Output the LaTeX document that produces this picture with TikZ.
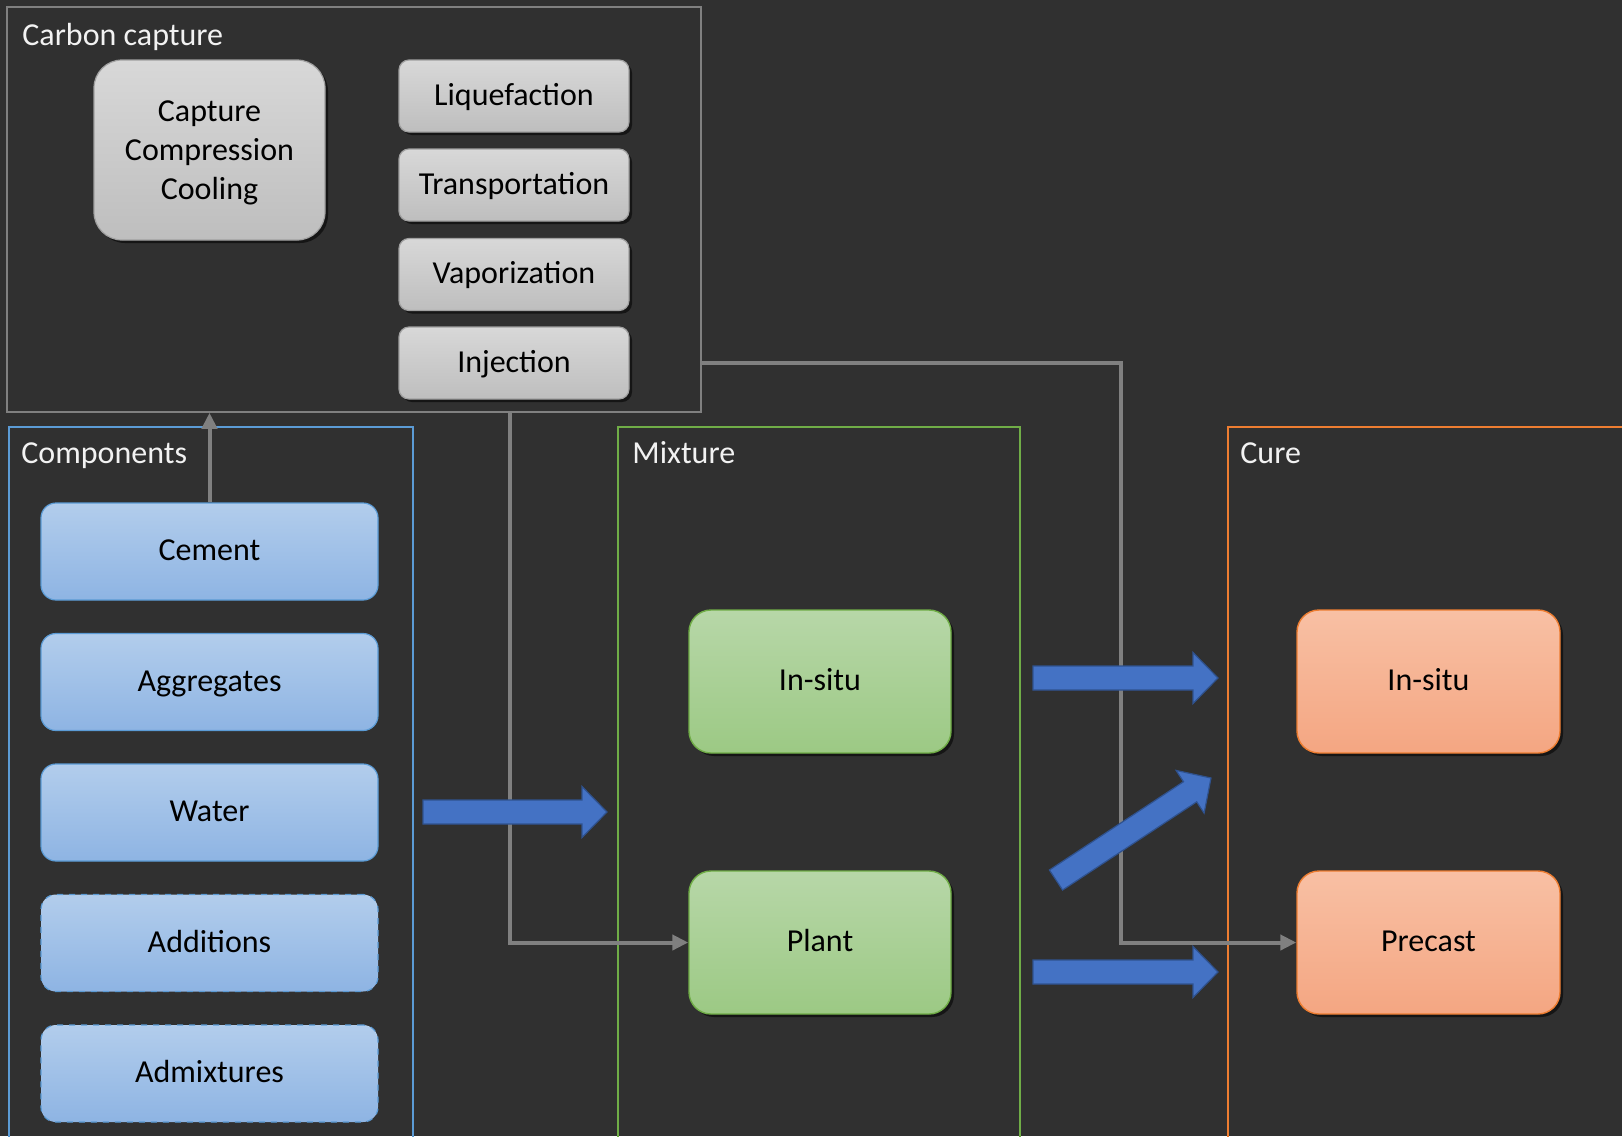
\documentclass[tikz,border=0pt]{standalone}
\usepackage{fontspec}
\setmainfont{Carlito}
\usetikzlibrary{shadows,arrows.meta}
\definecolor{bg}{RGB}{48,48,48}
\definecolor{linegray}{RGB}{128,128,128}
\definecolor{labelwhite}{RGB}{242,242,242}
\definecolor{grayTop}{RGB}{216,216,216}
\definecolor{grayBot}{RGB}{190,190,190}
\definecolor{grayEdge}{RGB}{160,160,160}
\definecolor{blueTop}{RGB}{178,205,236}
\definecolor{blueBot}{RGB}{142,180,227}
\definecolor{blueEdge}{RGB}{91,155,213}
\definecolor{greenTop}{RGB}{183,215,168}
\definecolor{greenBot}{RGB}{156,201,132}
\definecolor{greenEdge}{RGB}{112,173,71}
\definecolor{orangeTop}{RGB}{248,192,164}
\definecolor{orangeBot}{RGB}{244,166,130}
\definecolor{orangeEdge}{RGB}{237,125,49}
\definecolor{arrowBlue}{RGB}{68,114,196}
\definecolor{arrowEdge}{RGB}{47,82,143}
\begin{document}
\begin{tikzpicture}[x=0.5pt,y=-0.5pt,
  txt/.style={font=\fontsize{16}{19.5}\selectfont, text=black, inner sep=0pt, align=center},
  oneline/.style={text height=0.9em, text depth=0pt},
  label/.style={font=\fontsize{16}{19.5}\selectfont, text=labelwhite, inner sep=0pt, anchor=base west},
  container/.style={draw, line width=0.75pt, inner sep=0pt},
  grayproc/.style={txt, draw=grayEdge, line width=0.6pt, top color=grayTop, bottom color=grayBot,
     drop shadow={shadow xshift=1.5pt, shadow yshift=-1.5pt, fill=black, opacity=0.55}},
  blueproc/.style={txt, oneline, draw=blueEdge, line width=0.6pt, top color=blueTop, bottom color=blueBot,
     minimum width=168.5pt, minimum height=48.5pt, rounded corners=7.5pt},
  greenproc/.style={txt, oneline, draw=greenEdge, line width=0.7pt, top color=greenTop, bottom color=greenBot,
     minimum width=131pt, minimum height=71.5pt, rounded corners=11pt,
     drop shadow={shadow xshift=1.5pt, shadow yshift=-1.5pt, fill=black, opacity=0.55}},
  orangeproc/.style={txt, oneline, draw=orangeEdge, line width=0.7pt, top color=orangeTop, bottom color=orangeBot,
     minimum width=131.5pt, minimum height=71.5pt, rounded corners=11pt,
     drop shadow={shadow xshift=1.5pt, shadow yshift=-1.5pt, fill=black, opacity=0.55}},
  conn/.style={draw=linegray, line width=2pt, -{Triangle[length=8pt,width=7.5pt]}},
  blockarrow/.style={fill=arrowBlue, draw=arrowEdge, line width=0.6pt, line join=miter}
]
\useasboundingbox (0,0) rectangle (1622,1136);
\clip (0,0) rectangle (1622,1136);
\fill[bg] (0,0) rectangle (1622,1136);

% containers
\node[container, draw=linegray, minimum width=347pt, minimum height=202.5pt] (cc) at (354,209.5) {};
\draw[container, draw=blueEdge] (9,1150) |- (413,427) -- (413,1150);
\draw[container, draw=greenEdge] (618,1150) |- (1020,427) -- (1020,1150);
\draw[container, draw=orangeEdge] (1228,1150) |- (1640,427);
\coordinate (compbox) at (9,427);
\coordinate (mixbox) at (618,427);
\coordinate (curebox) at (1228,427);

\node[label] (lcc) at (22,45) {Carbon capture};
\node[label] (lcomp) at (21,463) {Components};
\node[label] (lmix) at (632,463) {Mixture};
\node[label] (lcure) at (1240,463) {Cure};

% carbon capture steps
\node[grayproc, text depth=0pt, minimum width=115.5pt, minimum height=90pt, rounded corners=14pt] (ccc) at (209.5,150) {Capture\\Compression\\Cooling};
\node[grayproc, oneline, minimum width=115pt, minimum height=36pt, rounded corners=5pt] (liq) at (514,96) {Liquefaction};
\node[grayproc, oneline, minimum width=115pt, minimum height=36pt, rounded corners=5pt] (tra) at (514,185) {Transportation};
\node[grayproc, oneline, minimum width=115pt, minimum height=36pt, rounded corners=5pt] (vap) at (514,274.5) {Vaporization};
\node[grayproc, oneline, minimum width=115pt, minimum height=36pt, rounded corners=5pt] (inj) at (514,363) {Injection};

% components
\node[blueproc] (cement) at (209.5,551.5) {Cement};
\node[blueproc] (aggr) at (209.5,682) {Aggregates};
\node[blueproc] (water) at (209.5,812.5) {Water};
\node[blueproc, dashed] (add) at (209.5,943) {Additions};
\node[blueproc, dashed] (admix) at (209.5,1073.5) {Admixtures};

% mixture
\node[greenproc] (mixin) at (820,681.5) {In-situ};
\node[greenproc] (plant) at (820,942.5) {Plant};

% cure
\node[orangeproc] (curein) at (1428.5,681.5) {In-situ};
\node[orangeproc] (precast) at (1428.5,942.5) {Precast};

% connectors
\draw[conn] (cement.north) -- (cement.north |- cc.south);
\coordinate (ccdown) at (510,412);
\draw[conn] (ccdown) |- (plant.west);
\coordinate (ccright) at (701,363);
\coordinate (bend) at (1121,363);
\draw[conn] (ccright) -- (bend) |- (precast.west);

% block arrows
\draw[blockarrow] (423,800) -- (582,800) -- (582,786.5) -- (607,812) -- (582,837.5) -- (582,824) -- (423,824) -- cycle;
\draw[blockarrow] (1033,666) -- (1193,666) -- (1193,652.5) -- (1218,678) -- (1193,703.5) -- (1193,690) -- (1033,690) -- cycle;
\draw[blockarrow] (1033,960) -- (1193,960) -- (1193,946.5) -- (1218,972) -- (1193,997.5) -- (1193,984) -- (1033,984) -- cycle;
\draw[blockarrow] (1049.4,870) -- (1183.5,781.7) -- (1176.1,770.4) -- (1211,778) -- (1204.1,813.1) -- (1196.7,801.8) -- (1062.6,890) -- cycle;
\end{tikzpicture}
\end{document}
